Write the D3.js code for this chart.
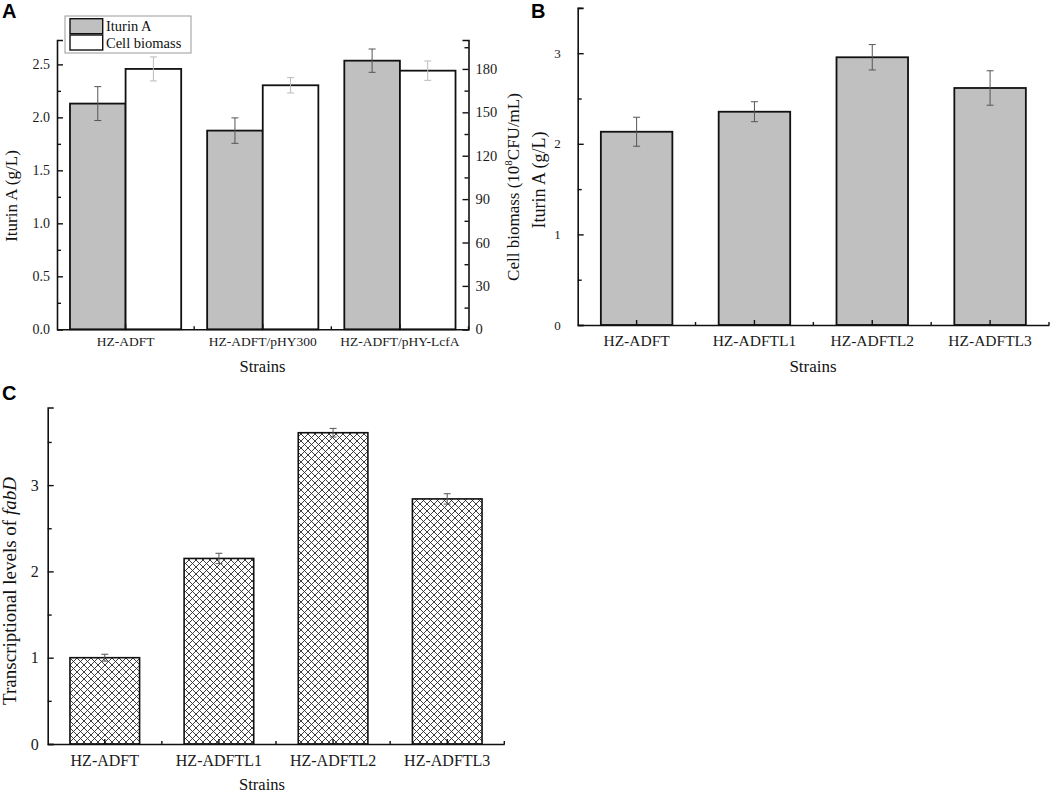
<!DOCTYPE html>
<html lang="en">
<head>
<meta charset="UTF-8">
<title>Iturin A and fabD</title>
<script src="https://d3js.org/d3.v7.min.js"></script>
<style>
  body { margin: 0; background: #fff; }
  svg { display: block; }
  .tick text { font-family: "Liberation Serif", "Times New Roman", serif; fill: #1a1a1a; }
  .axis path, .axis line { stroke: #111; }
  .title { font-family: "Liberation Serif", "Times New Roman", serif; font-size: 17px; fill: #111; }
  .letter { font-family: "Liberation Sans", Arial, sans-serif; font-weight: bold; font-size: 20px; fill: #000; }
</style>
</head>
<body>
<svg width="1052" height="797"></svg>
<script>
// data
const strainsA = ["HZ-ADFT", "HZ-ADFT/pHY300", "HZ-ADFT/pHY-LcfA"];
const iturinA = [2.13, 1.875, 2.535];
const iturinAErr = [0.16, 0.12, 0.11];
const biomassA = [180, 168.7, 178.8];
const biomassAErr = [8.3, 5.3, 6.7];
const seriesA = ["Iturin A", "Cell biomass"];

const strainsBC = ["HZ-ADFT", "HZ-ADFTL1", "HZ-ADFTL2", "HZ-ADFTL3"];
const iturinB = [2.133, 2.354, 2.955, 2.616];
const iturinBErr = [0.16, 0.11, 0.14, 0.19];
const fabD = [1.0, 2.15, 3.607, 2.84];
const fabDErr = [0.04, 0.06, 0.05, 0.06];

const ticksA = [0, 0.5, 1.0, 1.5, 2.0, 2.5];
const minorA = [0.25, 0.75, 1.25, 1.75, 2.25];
const ticksA2 = [0, 30, 60, 90, 120, 150, 180];
const minorA2 = [15, 45, 75, 105, 135, 165, 195];
const ticksB = [0, 1, 2, 3];
const minorB = [0.5, 1.5, 2.5, 3.5];
const ticksC = [0, 1, 2, 3];
const minorC = [0.5, 1.5, 2.5, 3.5];

const svg = d3.select("svg");
const gray = "#c0c0c0";

// hatch pattern for panel C
const pat = svg.append("defs").append("pattern")
  .attr("id", "hatch").attr("patternUnits", "userSpaceOnUse")
  .attr("width", 7).attr("height", 7);
pat.append("rect").attr("width", 7).attr("height", 7).attr("fill", "#fff");
pat.append("path").attr("d", "M0,0L7,7M7,0L0,7M-1,6L1,8M6,-1L8,1M-1,1L1,-1M6,8L8,6")
  .attr("stroke", "#2a2a2a").attr("stroke-width", 0.9);

function yAxes(g, y, left, major, minor, pad, fmt, fs) {
  g.append("g").attr("class", "axis").attr("transform", `translate(${left},0)`)
    .call(d3.axisLeft(y).tickValues(major).tickSize(-6).tickPadding(pad).tickFormat(fmt))
    .call(a => a.select(".domain").attr("stroke-width", 1.6))
    .call(a => a.selectAll(".tick line").attr("stroke-width", 1.4))
    .call(a => a.selectAll(".tick text").style("font-size", fs + "px"));
  g.append("g").attr("class", "axis").attr("transform", `translate(${left},0)`)
    .call(d3.axisLeft(y).tickValues(minor).tickSize(-4).tickFormat(""))
    .call(a => a.select(".domain").remove())
    .call(a => a.selectAll(".tick line").attr("stroke-width", 1.4));
}

function xAxis(g, x, bottom, pad, fs) {
  g.append("g").attr("class", "axis").attr("transform", `translate(0,${bottom})`)
    .call(d3.axisBottom(x).tickSize(-5).tickSizeOuter(0).tickPadding(pad))
    .call(a => a.select(".domain").attr("stroke-width", 1.6))
    .call(a => a.selectAll(".tick line").attr("stroke-width", 1.4))
    .call(a => a.selectAll(".tick text").style("font-size", fs + "px"));
  // small ticks at category boundaries
  g.append("g").selectAll("line")
    .data(x.domain().slice(1).concat(["__end"]))
    .join("line")
    .attr("x1", d => d === "__end" ? x.range()[1] : x(d))
    .attr("x2", d => d === "__end" ? x.range()[1] : x(d))
    .attr("y1", bottom).attr("y2", bottom - 3)
    .attr("stroke", "#111").attr("stroke-width", 1.4);
}

function errBars(g, xs, ys, vals, errs, color) {
  const e = g.append("g").attr("stroke", color).attr("stroke-width", 1);
  vals.forEach((v, i) => {
    const cx = xs[i];
    e.append("line").attr("x1", cx).attr("x2", cx).attr("y1", ys(v + errs[i])).attr("y2", ys(v - errs[i]));
    e.append("line").attr("x1", cx - 3.5).attr("x2", cx + 3.5).attr("y1", ys(v + errs[i])).attr("y2", ys(v + errs[i]));
    e.append("line").attr("x1", cx - 3.5).attr("x2", cx + 3.5).attr("y1", ys(v - errs[i])).attr("y2", ys(v - errs[i]));
  });
}

function title(x, y, text, rot, fs) {
  return svg.append("text").attr("class", "title")
    .style("font-size", fs + "px")
    .attr("transform", `translate(${x},${y})` + (rot ? " rotate(-90)" : ""))
    .attr("text-anchor", "middle").text(text);
}

// ---------- Panel A ----------
{
  const g = svg.append("g");
  const L = 57, R = 468.5, B = 329.3, T = 40;
  const x = d3.scaleBand().domain(strainsA).range([L, R]).padding(0);
  const sub = d3.scaleBand().domain(seriesA).range([-55.6, 55.6]);
  const y = d3.scaleLinear().domain([0, 2.73]).range([B, T]);
  const y2 = d3.scaleLinear().domain([0, 200]).range([B, T]);

  g.selectAll(".bi").data(iturinA).join("rect")
    .attr("x", (d, i) => x(strainsA[i]) + x.bandwidth() / 2 + sub(seriesA[0]))
    .attr("width", sub.bandwidth())
    .attr("y", d => y(d)).attr("height", d => B - y(d))
    .attr("fill", gray).attr("stroke", "#111").attr("stroke-width", 1.8);
  g.selectAll(".bb").data(biomassA).join("rect")
    .attr("x", (d, i) => x(strainsA[i]) + x.bandwidth() / 2 + sub(seriesA[1]))
    .attr("width", sub.bandwidth())
    .attr("y", d => y2(d)).attr("height", d => B - y2(d))
    .attr("fill", "#fff").attr("stroke", "#111").attr("stroke-width", 1.8);

  errBars(g, strainsA.map(s => x(s) + x.bandwidth() / 2 + sub(seriesA[0]) + sub.bandwidth() / 2), y, iturinA, iturinAErr, "#555");
  errBars(g, strainsA.map(s => x(s) + x.bandwidth() / 2 + sub(seriesA[1]) + sub.bandwidth() / 2), y2, biomassA, biomassAErr, "#bbb");

  yAxes(g, y, L, ticksA, minorA, 7, d3.format(".1f"), 14);
  g.append("g").attr("class", "axis").attr("transform", `translate(${R},0)`)
    .call(d3.axisRight(y2).tickValues(ticksA2).tickSize(-6).tickPadding(7))
    .call(a => a.select(".domain").attr("stroke-width", 1.6))
    .call(a => a.selectAll(".tick line").attr("stroke-width", 1.4))
    .call(a => a.selectAll(".tick text").style("font-size", "14.5px"));
  g.append("g").attr("class", "axis").attr("transform", `translate(${R},0)`)
    .call(d3.axisRight(y2).tickValues(minorA2).tickSize(-4).tickFormat(""))
    .call(a => a.select(".domain").remove())
    .call(a => a.selectAll(".tick line").attr("stroke-width", 1.4));
  xAxis(g, x, B, 7, 13.5);

  // legend
  const lg = g.append("g");
  lg.append("rect").attr("x", 65).attr("y", 16).attr("width", 126).attr("height", 37)
    .attr("fill", "#fff").attr("stroke", "#999").attr("stroke-width", 1);
  [[gray, 18.7, 30.5], ["#fff", 35, 47.5]].forEach((s, i) => {
    lg.append("rect").attr("x", 70).attr("y", s[1]).attr("width", 32.7).attr("height", 15)
      .attr("fill", s[0]).attr("stroke", "#111").attr("stroke-width", 1.4);
    lg.append("text").attr("class", "title").style("font-size", "14.5px")
      .attr("x", 106).attr("y", s[2]).text(seriesA[i]);
  });

  title(17, 196, "Iturin A (g/L)", true, 17);
  const t = svg.append("text").attr("class", "title").style("font-size", "17px")
    .attr("transform", "translate(519,187) rotate(-90)").attr("text-anchor", "middle");
  t.append("tspan").text("Cell biomass (10");
  t.append("tspan").attr("dy", -7).style("font-size", "11px").text("8");
  t.append("tspan").attr("dy", 7).text("CFU/mL)");
  title(262.5, 372, "Strains", false, 16.5);
  svg.append("text").attr("class", "letter").attr("x", 2).attr("y", 18).text("A");
}

// ---------- Panel B ----------
{
  const g = svg.append("g");
  const L = 577.7, R = 1049, B = 325;
  const x = d3.scaleBand().domain(strainsBC).range([L, R]).padding(0);
  const bw = x.bandwidth() * 0.607;
  const y = d3.scaleLinear().domain([0, 3.5]).range([B, B - 3.5 * 90.6]);

  g.selectAll("rect").data(iturinB).join("rect")
    .attr("x", (d, i) => x(strainsBC[i]) + (x.bandwidth() - bw) / 2)
    .attr("width", bw)
    .attr("y", d => y(d)).attr("height", d => B - y(d))
    .attr("fill", gray).attr("stroke", "#111").attr("stroke-width", 1.8);
  errBars(g, strainsBC.map(s => x(s) + x.bandwidth() / 2), y, iturinB, iturinBErr, "#555");

  yAxes(g, y, L, ticksB, minorB, 17, d3.format("d"), 13);
  xAxis(g, x, B, 9.5, 15.5);
  title(545, 180, "Iturin A (g/L)", true, 18);
  title(813, 372, "Strains", false, 17);
  svg.append("text").attr("class", "letter").attr("x", 531).attr("y", 18).text("B");
}

// ---------- Panel C ----------
{
  const g = svg.append("g");
  const L = 47.7, R = 504.3, B = 744;
  const x = d3.scaleBand().domain(strainsBC).range([L, R]).padding(0);
  const bw = x.bandwidth() * 0.61;
  const y = d3.scaleLinear().domain([0, 3.9]).range([B, B - 3.9 * 86.3]);

  g.selectAll("rect").data(fabD).join("rect")
    .attr("x", (d, i) => x(strainsBC[i]) + (x.bandwidth() - bw) / 2)
    .attr("width", bw)
    .attr("y", d => y(d)).attr("height", d => B - y(d))
    .attr("fill", "url(#hatch)").attr("stroke", "#111").attr("stroke-width", 1.6);
  errBars(g, strainsBC.map(s => x(s) + x.bandwidth() / 2), y, fabD, fabDErr, "#555");

  yAxes(g, y, L, ticksC, minorC, 9, d3.format("d"), 16);
  xAxis(g, x, B, 11, 16);

  const t = svg.append("text").attr("class", "title").style("font-size", "19px")
    .attr("transform", "translate(16,591) rotate(-90)").attr("text-anchor", "middle");
  t.append("tspan").text("Transcriptional levels of ");
  t.append("tspan").style("font-style", "italic").text("fabD");
  title(262, 790, "Strains", false, 16.5);
  svg.append("text").attr("class", "letter").attr("x", 2).attr("y", 400).text("C");
}
</script>
</body>
</html>
